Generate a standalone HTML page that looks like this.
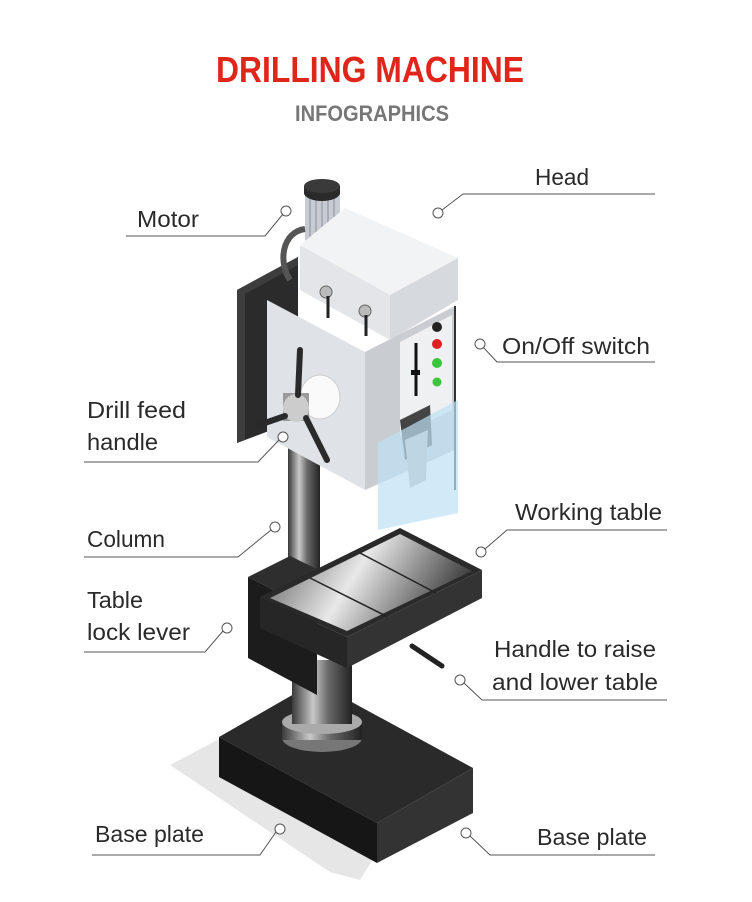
<!DOCTYPE html>
<html><head><meta charset="utf-8"><style>
html,body{margin:0;padding:0;background:#fff;}
svg{display:block;}
text{font-family:"Liberation Sans",sans-serif;}
</style></head><body>
<svg width="752" height="902" viewBox="0 0 752 902" xmlns="http://www.w3.org/2000/svg">
<defs>
<linearGradient id="col" x1="0" x2="1" y1="0" y2="0">
<stop offset="0" stop-color="#3a3a3a"/><stop offset="0.35" stop-color="#c8c8c8"/><stop offset="0.6" stop-color="#6a6a6a"/><stop offset="1" stop-color="#222"/>
</linearGradient>
<linearGradient id="steel" x1="0" x2="1" y1="0" y2="0.3">
<stop offset="0" stop-color="#555"/><stop offset="0.5" stop-color="#e8e8e8"/><stop offset="1" stop-color="#444"/>
</linearGradient>
</defs>
<rect width="752" height="902" fill="#fff"/>
<text x="370" y="82" text-anchor="middle" font-size="36" font-weight="bold" fill="#e0261b" textLength="308" lengthAdjust="spacingAndGlyphs">DRILLING  MACHINE</text>
<text x="372" y="121" text-anchor="middle" font-size="22" font-weight="bold" fill="#777" textLength="154" lengthAdjust="spacingAndGlyphs">INFOGRAPHICS</text>

<polygon points="170,765 240,728 400,815 360,880 330,872" fill="#e6e6e6"/>
<polygon points="219,737 315,682 473,768 377,823" fill="#2a2a2a"/>
<polygon points="219,737 377,823 377,863 219,777" fill="#161616"/>
<polygon points="377,823 473,768 473,813 377,863" fill="#333"/>
<ellipse cx="322" cy="738" rx="40" ry="14" fill="#777"/>
<rect x="282" y="722" width="80" height="18" fill="url(#col)"/>
<ellipse cx="322" cy="722" rx="40" ry="12" fill="#aaa"/>
<rect x="292" y="660" width="60" height="64" fill="url(#col)"/>
<rect x="288" y="440" width="32" height="140" fill="url(#col)"/>
<polygon points="248,577 290,556 360,590 317,612" fill="#2e2e2e"/>
<polygon points="248,577 317,612 317,695 248,658" fill="#1c1c1c"/>
<polygon points="260,597 400,528 482,570 347,637" fill="#2a2a2a"/>
<polygon points="270,598 400,534 472,571 347,631" fill="url(#steel)"/>
<line x1="310" y1="578" x2="392" y2="619" stroke="#222" stroke-width="1.5"/>
<line x1="360" y1="553" x2="438" y2="594" stroke="#222" stroke-width="1.5"/>
<polygon points="260,597 347,637 347,668 260,628" fill="#262626"/>
<polygon points="347,637 482,570 482,598 347,668" fill="#333"/>
<line x1="412" y1="646" x2="442" y2="666" stroke="#222" stroke-width="5" stroke-linecap="round"/>
<!-- back plate -->
<polygon points="237,290 298,257 298,420 237,443" fill="#2b2b2b"/>
<polygon points="237,290 298,257 298,265 245,294 245,440 237,443" fill="#3d3d3d"/>
<!-- motor -->
<rect x="305" y="193" width="35" height="50" fill="#c8ccd2"/>
<g stroke="#8a9099" stroke-width="1"><line x1="310" y1="198" x2="310" y2="240"/><line x1="316" y1="198" x2="316" y2="240"/><line x1="322" y1="198" x2="322" y2="240"/><line x1="328" y1="198" x2="328" y2="240"/><line x1="334" y1="198" x2="334" y2="240"/></g>
<ellipse cx="322" cy="193" rx="18" ry="8" fill="#2a2a2a"/>
<rect x="304" y="186" width="36" height="8" fill="#2a2a2a"/>
<ellipse cx="322" cy="186" rx="18" ry="7" fill="#3a3a3a"/>
<path d="M305,229 C282,232 278,262 290,280" stroke="#555" stroke-width="6" fill="none"/>
<!-- lower head box -->
<polygon points="267,300 365,352 365,490 267,437" fill="#dfe2e6"/>
<polygon points="365,352 455,306 455,450 365,490" fill="#c9ccd1"/>
<polygon points="400,342 452,315 452,410 400,436" fill="#eef0f2"/>
<line x1="455" y1="306" x2="455" y2="490" stroke="#333" stroke-width="2"/>
<!-- upper head box -->
<polygon points="300,245 345,208 458,258 390,295" fill="#f2f3f5"/>
<polygon points="300,245 390,295 390,340 300,290" fill="#e3e5e8"/>
<polygon points="390,295 458,258 458,300 390,340" fill="#d6d9dd"/>
<circle cx="326" cy="292" r="6" fill="#bbb" stroke="#666"/><line x1="328" y1="296" x2="328" y2="318" stroke="#222" stroke-width="3"/>
<circle cx="365" cy="311" r="6" fill="#bbb" stroke="#666"/><line x1="366" y1="315" x2="366" y2="336" stroke="#222" stroke-width="3"/>
<circle cx="437" cy="327" r="5" fill="#222"/>
<circle cx="437" cy="344" r="5" fill="#e02020"/>
<circle cx="437" cy="363" r="5" fill="#3cc43c"/>
<circle cx="437" cy="382" r="4.5" fill="#3cc43c"/>
<line x1="416" y1="343" x2="416" y2="396" stroke="#111" stroke-width="3"/>
<rect x="411" y="370" width="9" height="5" fill="#111"/>
<polygon points="400,420 430,405 432,445 405,460" fill="#444"/>
<polygon points="405,440 428,430 426,480 410,488" fill="#bbb"/>
<polygon points="378,443 458,400 458,513 378,530" fill="#bfe1f5" fill-opacity="0.7"/>
<!-- feed handle -->
<ellipse cx="320" cy="397" rx="20" ry="22" fill="#fafafa" stroke="#ccc"/>
<rect x="283" y="393" width="26" height="28" fill="#999"/>
<ellipse cx="296" cy="408" rx="13" ry="14" fill="#ccc"/>
<line x1="298" y1="395" x2="300" y2="350" stroke="#2a2a2a" stroke-width="6" stroke-linecap="round"/>
<line x1="285" y1="416" x2="262" y2="424" stroke="#2a2a2a" stroke-width="6" stroke-linecap="round"/>
<line x1="306" y1="418" x2="327" y2="460" stroke="#2a2a2a" stroke-width="6" stroke-linecap="round"/>

<g stroke="#555" stroke-width="1" fill="none">
<polyline points="126,236 265,236 283,214"/><circle cx="286" cy="211" r="5" fill="#fff"/>
<polyline points="655,194 463,194 442,210"/><circle cx="438" cy="213" r="5" fill="#fff"/>
<polyline points="655,362 497,362 483,347"/><circle cx="480" cy="344" r="5" fill="#fff"/>
<polyline points="84,462 258,462 279,440"/><circle cx="283" cy="437" r="5" fill="#fff"/>
<polyline points="84,557 238,557 271,530"/><circle cx="275" cy="527" r="5" fill="#fff"/>
<polyline points="667,530 507,530 485,549"/><circle cx="481" cy="552" r="5" fill="#fff"/>
<polyline points="84,652 205,652 223,631"/><circle cx="227" cy="628" r="5" fill="#fff"/>
<polyline points="667,700 482,700 464,683"/><circle cx="460" cy="680" r="5" fill="#fff"/>
<polyline points="92,855 260,855 276,832"/><circle cx="280" cy="829" r="5" fill="#fff"/>
<polyline points="655,855 490,855 470,836"/><circle cx="466" cy="833" r="5" fill="#fff"/>
</g>
<g font-size="23" fill="#2a2a2a">
<text x="137" y="227" textLength="62" lengthAdjust="spacingAndGlyphs">Motor</text>
<text x="535" y="185" textLength="54" lengthAdjust="spacingAndGlyphs">Head</text>
<text x="502" y="354" textLength="148" lengthAdjust="spacingAndGlyphs">On/Off switch</text>
<text x="87" y="418" textLength="99" lengthAdjust="spacingAndGlyphs">Drill feed</text>
<text x="87" y="450" textLength="71" lengthAdjust="spacingAndGlyphs">handle</text>
<text x="87" y="547" textLength="78" lengthAdjust="spacingAndGlyphs">Column</text>
<text x="515" y="520" textLength="147" lengthAdjust="spacingAndGlyphs">Working table</text>
<text x="87" y="608" textLength="56" lengthAdjust="spacingAndGlyphs">Table</text>
<text x="87" y="640" textLength="103" lengthAdjust="spacingAndGlyphs">lock lever</text>
<text x="494" y="657" textLength="162" lengthAdjust="spacingAndGlyphs">Handle to raise</text>
<text x="492" y="690" textLength="166" lengthAdjust="spacingAndGlyphs">and lower table</text>
<text x="95" y="842" textLength="109" lengthAdjust="spacingAndGlyphs">Base plate</text>
<text x="537" y="845" textLength="110" lengthAdjust="spacingAndGlyphs">Base plate</text>
</g>
</svg>
</body></html>
